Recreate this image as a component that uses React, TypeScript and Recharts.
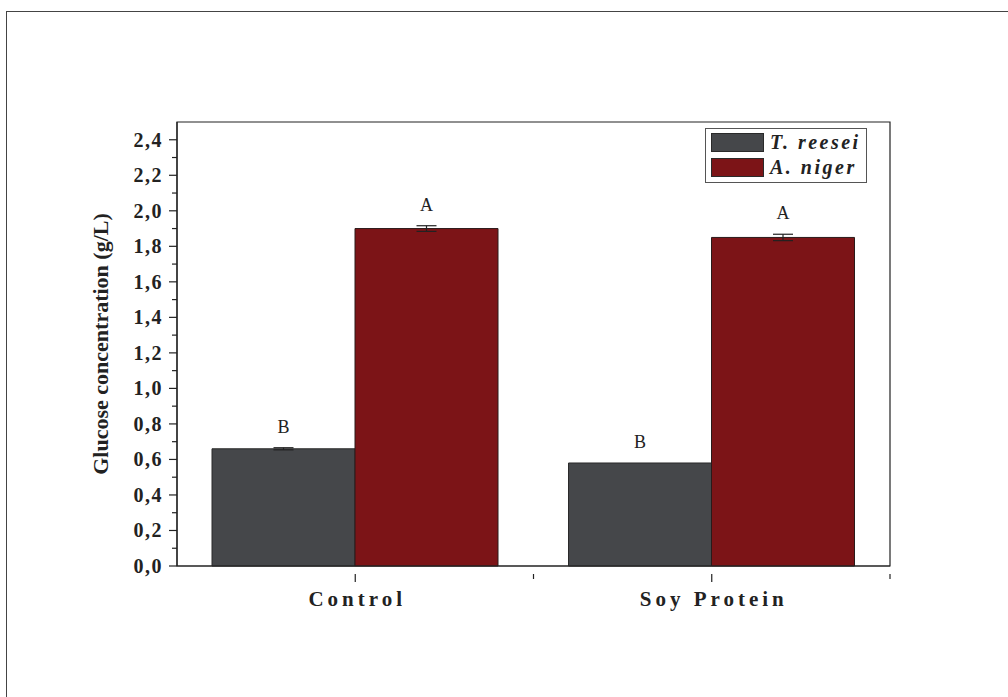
import { BarChart, Bar, XAxis, YAxis, ErrorBar, LabelList, ReferenceArea } from 'recharts';

const categories = ['Control', 'Soy Protein'];
const seriesNames = ['T. reesei', 'A. niger'];
const reeseiValues = [0.66, 0.58];
const reeseiErrors = [0.006, 0];
const nigerValues = [1.9, 1.85];
const nigerErrors = [0.016, 0.018];
const reeseiLetters = ['B', 'B'];
const nigerLetters = ['A', 'A'];
const yTicks = [0, 0.1, 0.2, 0.3, 0.4, 0.5, 0.6, 0.7, 0.8, 0.9, 1.0, 1.1, 1.2, 1.3, 1.4, 1.5, 1.6, 1.7, 1.8, 1.9, 2.0, 2.1, 2.2, 2.3, 2.4];

const GRAY = '#45474a';
const RED = '#7c1417';
const INK = '#222';
const FONT = '"Liberation Serif", "Times New Roman", serif';

const data = categories.map((name, i) => ({
  name,
  reesei: reeseiValues[i],
  reeseiErr: reeseiErrors[i],
  reeseiLetter: reeseiLetters[i],
  niger: nigerValues[i],
  nigerErr: nigerErrors[i],
  nigerLetter: nigerLetters[i],
}));

const fmt = (v: number) => v.toFixed(1).replace('.', ',');

function YTick(props: any) {
  const { x, y, payload, index } = props;
  const major = index % 2 === 0;
  return (
    <g>
      <line x1={x - (major ? 8 : 5)} x2={x} y1={y} y2={y} stroke={INK} strokeWidth={1.2} />
      {major && (
        <text x={x - 14} y={y} dy={7} textAnchor="end" fontFamily={FONT} fontWeight="bold" fontSize={20} letterSpacing={1.5} fill={INK}>
          {fmt(payload.value)}
        </text>
      )}
    </g>
  );
}

function XTick(props: any) {
  const { x, y, payload, width, visibleTicksCount } = props;
  const half = width / visibleTicksCount / 2;
  return (
    <g>
      <line x1={x} x2={x} y1={y} y2={y + 8} stroke={INK} strokeWidth={1.2} />
      <line x1={x + half} x2={x + half} y1={y} y2={y + 5} stroke={INK} strokeWidth={1.2} />
      <text x={x + 2} y={y + 32} textAnchor="middle" fontFamily={FONT} fontWeight="bold" fontSize={21} letterSpacing={4} fill={INK}>
        {payload.value}
      </text>
    </g>
  );
}

// letter above each bar, sitting just over the error bar cap
function letterLabel(errors: number[], values: number[]) {
  return (props: any) => {
    const { x, y, width, height, value, index } = props;
    const errPx = (errors[index] * height) / values[index];
    return (
      <text x={x + width / 2} y={y - errPx - 15} textAnchor="middle" fontFamily={FONT} fontSize={18} fill={INK}>
        {value}
      </text>
    );
  };
}

function YLabel(props: any) {
  const { viewBox } = props;
  const cx = viewBox.x - 17;
  const cy = viewBox.y + viewBox.height / 2;
  return (
    <text x={cx} y={cy} transform={`rotate(-90 ${cx} ${cy})`} textAnchor="middle" dominantBaseline="central" fontFamily={FONT} fontWeight="bold" fontSize={22} fill={INK}>
      Glucose concentration (g/L)
    </text>
  );
}

function LegendBox() {
  const colors = [GRAY, RED];
  return (
    <div style={{ position: 'absolute', left: 705, top: 128, width: 162, height: 55, border: '1px solid #555', background: '#fff', boxSizing: 'border-box' }}>
      {seriesNames.map((n, i) => (
        <div key={n} style={{ position: 'absolute', left: 5, top: 4 + i * 25, display: 'flex', alignItems: 'center' }}>
          <span style={{ display: 'inline-block', width: 53, height: 19, background: colors[i], border: '1px solid #2a2a2a', boxSizing: 'border-box' }} />
          <span style={{ marginLeft: 6, fontFamily: FONT, fontWeight: 'bold', fontStyle: 'italic', fontSize: 20, letterSpacing: 2.5, color: INK, lineHeight: '19px' }}>
            {n}
          </span>
        </div>
      ))}
    </div>
  );
}

export default function App() {
  return (
    <div style={{ position: 'absolute', left: 0, top: 0, width: 1008, height: 697, overflow: 'hidden', background: '#fff' }}>
      <div style={{ position: 'absolute', left: 6, top: 11, width: 1100, height: 800, border: '1.5px solid #444' }} />
      <BarChart
        width={1008}
        height={697}
        data={data}
        margin={{ top: 122, right: 118, bottom: 91, left: 117 }}
        barGap={0}
        barCategoryGap={35}
      >
        <XAxis dataKey="name" height={40} tickLine={false} axisLine={{ stroke: INK, strokeWidth: 1.2 }} tick={<XTick />} interval={0} />
        <YAxis
          width={60}
          domain={[0, 2.5]}
          ticks={yTicks}
          interval={0}
          tickSize={0}
          tickMargin={0}
          tickLine={false}
          axisLine={{ stroke: INK, strokeWidth: 1.2 }}
          tick={<YTick />}
          label={<YLabel />}
        />
        <ReferenceArea y1={0} y2={2.5} fill="none" stroke={INK} strokeWidth={1.2} />
        <Bar dataKey="reesei" name={seriesNames[0]} fill={GRAY} stroke="#2a2a2a" strokeWidth={1} isAnimationActive={false}>
          <ErrorBar dataKey="reeseiErr" width={10} stroke={INK} strokeWidth={1.2} />
          <LabelList dataKey="reeseiLetter" content={letterLabel(reeseiErrors, reeseiValues)} />
        </Bar>
        <Bar dataKey="niger" name={seriesNames[1]} fill={RED} stroke="#2a1a1a" strokeWidth={1} isAnimationActive={false}>
          <ErrorBar dataKey="nigerErr" width={10} stroke={INK} strokeWidth={1.2} />
          <LabelList dataKey="nigerLetter" content={letterLabel(nigerErrors, nigerValues)} />
        </Bar>
      </BarChart>
      <LegendBox />
    </div>
  );
}
